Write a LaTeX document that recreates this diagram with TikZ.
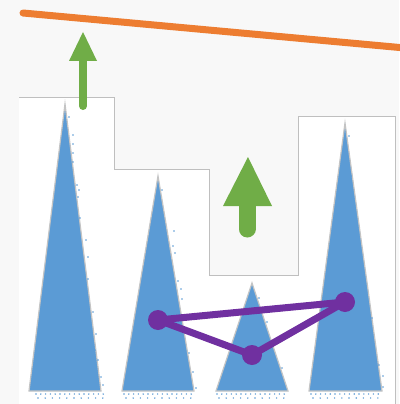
\documentclass[tikz,border=0pt]{standalone}
\definecolor{bg}{HTML}{F8F8F8}
\definecolor{tri}{HTML}{5B9BD5}
\definecolor{triedge}{HTML}{C4C4C4}
\definecolor{orng}{HTML}{ED7D31}
\definecolor{grn}{HTML}{70AD47}
\definecolor{purp}{HTML}{7030A0}
\definecolor{frame}{HTML}{BFBFBF}
\begin{document}
\begin{tikzpicture}[x=1pt,y=-1pt,
  peak/.style={fill=tri,draw=triedge,line width=1.2pt,line join=miter},
  dotrow/.style={fill=tri},
  pdot/.style={circle,fill=purp,inner sep=0pt,minimum size=20pt},
  pline/.style={draw=purp,line width=7pt}]
\useasboundingbox (0,0) rectangle (399,404);
\fill[bg] (0,0) rectangle (399,404);
% white stepped region
\fill[white] (19,404) -- (19,97) -- (114,97) -- (114,169) -- (209,169) -- (209,275) -- (298,275) -- (298,116) -- (395,116) -- (395,404) -- cycle;
\draw[frame,line width=1pt] (19,97) -- (114,97) -- (114,169) -- (209,169) -- (209,275) -- (298,275) -- (298,116) -- (395,116) -- (395,404);
% peaks
\filldraw[peak] (29,391) -- (65,104) -- (101,391) -- cycle;
\filldraw[peak] (122,391) -- (158,176) -- (194,391) -- cycle;
\filldraw[peak] (216,391) -- (252,283) -- (288,391) -- cycle;
\filldraw[peak] (309,391) -- (345,123) -- (382,391) -- cycle;
% dots under bases
\foreach \s/\e in {36/102,124/196,217/290,311/385}{
  \foreach \xx in {\s,4.5,...,\e}{ }
}
\foreach \s in {36,124,217,311}{
  \foreach \i in {0,...,14}{
    \fill[tri] (\s+\i*4.8,394) circle (0.8);
  }
  \foreach \i in {0,...,9}{
    \fill[tri] (\s+2+\i*7.2,398) circle (0.8);
  }
}
% dots along right edges
\foreach \px/\py in {69/117,73/135,73/144,73/153,73/162,77/185,79/190,78/197,80/218,86/240,88/257,88/279,93/312,96/334,95/350,98/360,101/377,103/385,
  162/190,174/231,173/246,175/253,178/281,181/289,182/299,189/333,189/353,193/372,196/388,
  259/298,267/322,282/368,
  349/136,351/176,351/202,353/213,358/247,367/300,372/318,373/348,379/365,383/376,383/387}{
  \fill[tri] (\px,\py) circle (0.8);
}
% orange line
\draw[orng,line width=7pt,line cap=round] (23,13) -- (405,48);
% green arrows
\draw[grn,line width=8pt,line cap=round] (83,106) -- (83,58);
\fill[grn] (69,61) -- (83,32) -- (97,61) -- cycle;
\draw[grn,line width=17pt,line cap=round] (247,229) -- (247,204);
\fill[grn] (223,206) -- (248,157) -- (272,206) -- cycle;
% purple triangle
\node[pdot] (a) at (158,320) {};
\node[pdot] (b) at (252,355) {};
\node[pdot] (c) at (345,302) {};
\draw[pline] (a.center) -- (c.center);
\draw[pline] (a.center) -- (b.center);
\draw[pline] (b.center) -- (c.center);
\end{tikzpicture}
\end{document}
